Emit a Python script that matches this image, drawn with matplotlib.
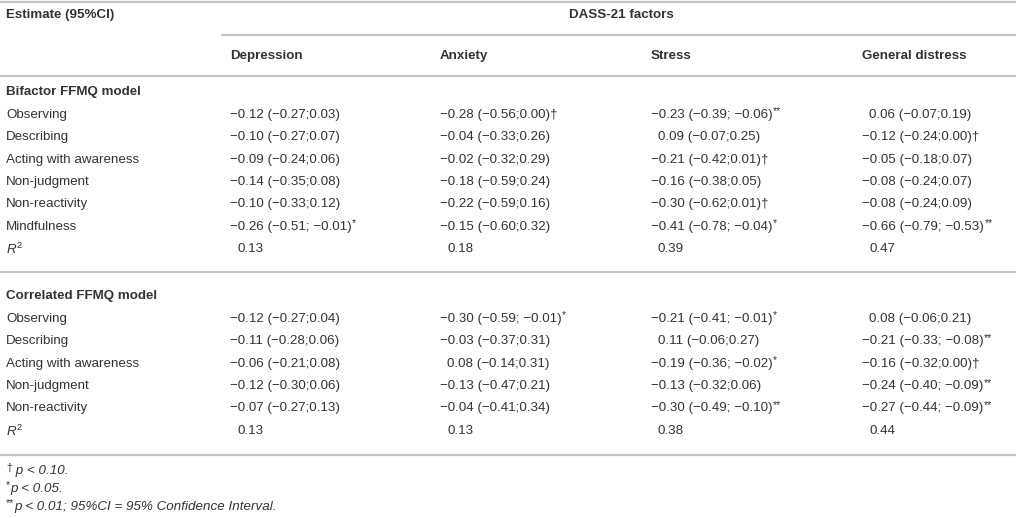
import matplotlib
matplotlib.use("Agg")
import matplotlib.pyplot as plt

plt.rcParams['font.family'] = ['Liberation Sans', 'DejaVu Sans']
plt.rcParams['mathtext.fontset'] = 'custom'
plt.rcParams['mathtext.rm'] = 'Liberation Sans'
plt.rcParams['mathtext.it'] = 'Liberation Sans:italic'

# data
columns = ["Depression", "Anxiety", "Stress", "General distress"]
predictors_bif = ["Observing", "Describing", "Acting with awareness",
                  "Non-judgment", "Non-reactivity", "Mindfulness"]
predictors_cor = ["Observing", "Describing", "Acting with awareness",
                  "Non-judgment", "Non-reactivity"]

bif_est = [[-0.12, -0.28, -0.23, 0.06],
           [-0.10, -0.04, 0.09, -0.12],
           [-0.09, -0.02, -0.21, -0.05],
           [-0.14, -0.18, -0.16, -0.08],
           [-0.10, -0.22, -0.30, -0.08],
           [-0.26, -0.15, -0.41, -0.66]]
bif_lo = [[-0.27, -0.56, -0.39, -0.07],
          [-0.27, -0.33, -0.07, -0.24],
          [-0.24, -0.32, -0.42, -0.18],
          [-0.35, -0.59, -0.38, -0.24],
          [-0.33, -0.59, -0.62, -0.24],
          [-0.51, -0.60, -0.78, -0.79]]
bif_hi = [[0.03, 0.00, -0.06, 0.19],
          [0.07, 0.26, 0.25, 0.00],
          [0.06, 0.29, 0.01, 0.07],
          [0.08, 0.24, 0.05, 0.07],
          [0.12, 0.16, 0.01, 0.09],
          [-0.01, 0.32, -0.04, -0.53]]
bif_sig = [["", "†", "**", ""],
           ["", "", "", "†"],
           ["", "", "†", ""],
           ["", "", "", ""],
           ["", "", "†", ""],
           ["*", "", "*", "**"]]
bif_r2 = [0.13, 0.18, 0.39, 0.47]

cor_est = [[-0.12, -0.30, -0.21, 0.08],
           [-0.11, -0.03, 0.11, -0.21],
           [-0.06, 0.08, -0.19, -0.16],
           [-0.12, -0.13, -0.13, -0.24],
           [-0.07, -0.04, -0.30, -0.27]]
cor_lo = [[-0.27, -0.59, -0.41, -0.06],
          [-0.28, -0.37, -0.06, -0.33],
          [-0.21, -0.14, -0.36, -0.32],
          [-0.30, -0.47, -0.32, -0.40],
          [-0.27, -0.41, -0.49, -0.44]]
cor_hi = [[0.04, -0.01, -0.01, 0.21],
          [0.06, 0.31, 0.27, -0.08],
          [0.08, 0.31, -0.02, 0.00],
          [0.06, 0.21, 0.06, -0.09],
          [0.13, 0.34, -0.10, -0.09]]
cor_sig = [["", "*", "*", ""],
           ["", "", "", "**"],
           ["", "", "*", "†"],
           ["", "", "", "**"],
           ["", "", "**", "**"]]
cor_r2 = [0.13, 0.13, 0.38, 0.44]

TXT = '#333333'
LINE = '#c4c4c4'
FS = 9.6

fig = plt.figure(figsize=(10.16, 5.18), dpi=100)
ax = fig.add_axes([0, 0, 1, 1])
ax.set_xlim(0, 1016)
ax.set_ylim(518, 0)
ax.axis('off')

col_x = [230, 440, 651, 862]
pos_shift = 7
step = 22.4


def num(v):
    s = '{:.2f}'.format(abs(v))
    return ('\u2212' + s) if v < 0 else s


def cell(e, lo, hi):
    sep = '; ' if hi < 0 else ';'
    return '{} ({}{}{})'.format(num(e), num(lo), sep, num(hi))


renderer = fig.canvas.get_renderer()


def put_sup(t, s, size=7.5, dy=-3.5):
    bb = t.get_window_extent(renderer)
    inv = ax.transData.inverted()
    x1, _ = inv.transform((bb.x1, bb.y0))
    _, yc = t.get_position()
    ax.text(x1 + 0.5, yc + dy, s, fontsize=size, color=TXT, va='center', ha='left')


def hline(y, x0=0, x1=1016):
    ax.plot([x0, x1], [y, y], color=LINE, lw=1.6, solid_capstyle='butt')


def section(title, y0, preds, est, lo, hi, sig, r2):
    ax.text(6, y0, title, fontsize=FS, fontweight='bold', color=TXT, va='center')
    for i, p in enumerate(preds):
        y = y0 + step * (i + 1)
        ax.text(6, y, p, fontsize=FS, color=TXT, va='center')
        for j in range(4):
            e = est[i][j]
            x = col_x[j] + (0 if e < 0 else pos_shift)
            s = cell(e, lo[i][j], hi[i][j])
            mark = sig[i][j]
            if mark == '†':
                s += '†'
            t = ax.text(x, y, s, fontsize=FS, color=TXT, va='center')
            if mark.startswith('*'):
                put_sup(t, mark)
    y = y0 + step * (len(preds) + 1)
    ax.text(6, y, '$R^2$', fontsize=FS, color=TXT, va='center')
    for j in range(4):
        ax.text(col_x[j] + pos_shift, y, '{:.2f}'.format(r2[j]), fontsize=FS,
                color=TXT, va='center')
    return y


# header
hline(2)
ax.text(6, 15, 'Estimate (95%CI)', fontsize=FS, fontweight='bold', color=TXT, va='center')
ax.text(621, 15, 'DASS-21 factors', fontsize=FS, fontweight='bold', color=TXT,
        va='center', ha='center')
hline(35, 221)
for j, c in enumerate(columns):
    ax.text(col_x[j], 56, c, fontsize=FS, fontweight='bold', color=TXT, va='center')
hline(76)

yend = section('Bifactor FFMQ model', 92.5, predictors_bif, bif_est, bif_lo, bif_hi,
               bif_sig, bif_r2)
hline(272)
yend = section('Correlated FFMQ model', 296.5, predictors_cor, cor_est, cor_lo, cor_hi,
               cor_sig, cor_r2)
hline(455)

# footnotes
notes = [('†', ' p < 0.10.'), ('*', 'p < 0.05.'),
         ('**', 'p < 0.01; 95%CI = 95% Confidence Interval.')]
for k, (m, s) in enumerate(notes):
    y = 471 + 18 * k
    t = ax.text(6, y - 3.5, m, fontsize=7.5, color=TXT, va='center')
    bb = t.get_window_extent(renderer)
    x1, _ = ax.transData.inverted().transform((bb.x1, bb.y0))
    ax.text(x1, y, s, fontsize=FS, fontstyle='italic', color=TXT, va='center')

fig.savefig('out.png', dpi=100)
